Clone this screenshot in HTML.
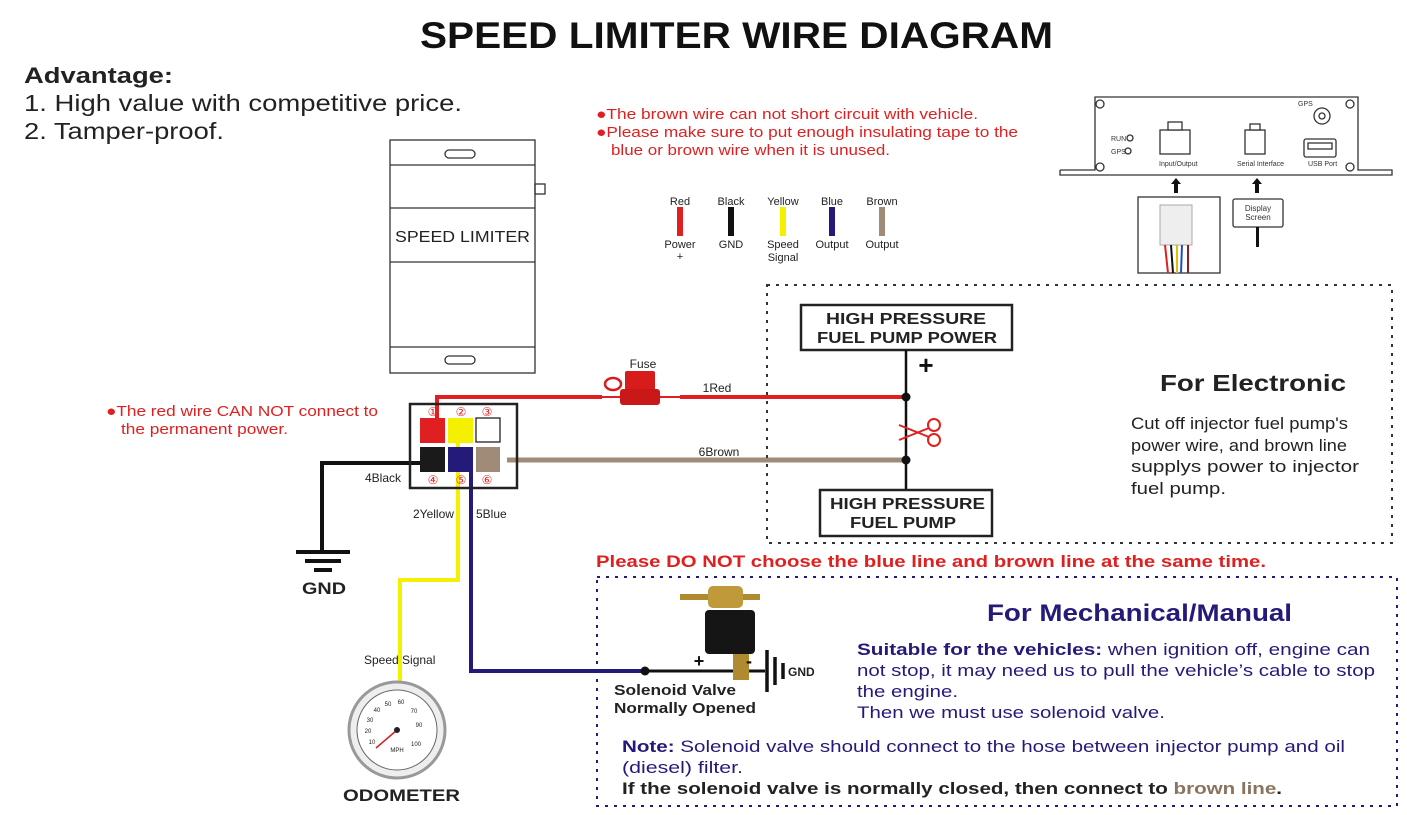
<!DOCTYPE html>
<html><head><meta charset="utf-8"><style>
body{margin:0;background:#fff}
svg{display:block;font-family:"Liberation Sans",Arial,sans-serif}
</style></head><body>
<svg width="1407" height="815" viewBox="0 0 1407 815">
<text x="420" y="48" font-size="37" font-weight="bold" fill="#111" textLength="633" lengthAdjust="spacingAndGlyphs">SPEED LIMITER WIRE DIAGRAM</text>
<text x="24" y="83" font-size="22" font-weight="bold" fill="#222" textLength="149" lengthAdjust="spacingAndGlyphs">Advantage:</text>
<text x="24" y="111" font-size="23" fill="#222" textLength="438" lengthAdjust="spacingAndGlyphs">1. High value with competitive price.</text>
<text x="24" y="139" font-size="23" fill="#222" textLength="200" lengthAdjust="spacingAndGlyphs">2. Tamper-proof.</text>
<g font-size="15" fill="#e02020">
<text x="596" y="119" textLength="382" lengthAdjust="spacingAndGlyphs">●The brown wire can not short circuit with vehicle.</text>
<text x="596" y="137" textLength="422" lengthAdjust="spacingAndGlyphs">●Please make sure to put enough insulating tape to the</text>
<text x="611" y="155" textLength="279" lengthAdjust="spacingAndGlyphs">blue or brown wire when it is unused.</text>
<text x="106" y="416" textLength="272" lengthAdjust="spacingAndGlyphs">●The red wire CAN NOT connect to</text>
<text x="121" y="434" textLength="167" lengthAdjust="spacingAndGlyphs">the permanent power.</text>
</g>
<!-- speed limiter -->
<g stroke="#333" fill="none" stroke-width="1.3">
<rect x="390" y="140" width="145" height="233"/>
<line x1="390" y1="165" x2="535" y2="165"/><line x1="390" y1="208" x2="535" y2="208"/>
<line x1="390" y1="262" x2="535" y2="262"/><line x1="390" y1="347" x2="535" y2="347"/>
<rect x="445" y="150" width="30" height="8" rx="4"/><rect x="445" y="356" width="30" height="8" rx="4"/>
<rect x="535" y="184" width="10" height="10"/>
</g>
<text x="395" y="242" font-size="16" fill="#222" textLength="135" lengthAdjust="spacingAndGlyphs">SPEED LIMITER</text>
<!-- legend -->
<g font-size="11" text-anchor="middle" fill="#222">
<text x="680" y="205">Red</text><text x="731" y="205">Black</text><text x="783" y="205">Yellow</text><text x="832" y="205">Blue</text><text x="882" y="205">Brown</text>
<text x="680" y="248">Power</text><text x="680" y="260">+</text><text x="731" y="248">GND</text>
<text x="783" y="248">Speed</text><text x="783" y="261">Signal</text><text x="832" y="248">Output</text><text x="882" y="248">Output</text>
</g>
<rect x="677" y="207" width="6" height="29" fill="#e02020"/><rect x="728" y="207" width="6" height="29" fill="#111"/>
<rect x="780" y="207" width="6" height="29" fill="#f5f000"/><rect x="829" y="207" width="6" height="29" fill="#241a7a"/>
<rect x="879" y="207" width="6" height="29" fill="#a08b78"/>
<!-- wires -->
<polyline points="437,420 437,397 906,397" stroke="#e02020" stroke-width="4" fill="none"/>
<line x1="507" y1="460" x2="906" y2="460" stroke="#a08b78" stroke-width="5"/>
<polyline points="423,463 322,463 322,552" stroke="#111" stroke-width="4" fill="none"/>
<polyline points="458,440 458,580 400,580 400,682" stroke="#f5f000" stroke-width="4" fill="none"/>
<polyline points="471,470 471,671 645,671" stroke="#241a7a" stroke-width="4" fill="none"/>
<!-- fuse -->
<rect x="602" y="388" width="78" height="18" fill="#fff"/>
<line x1="598" y1="397" x2="685" y2="397" stroke="#e02020" stroke-width="2"/>
<rect x="625" y="371" width="30" height="20" fill="#d81c1c" rx="2"/>
<rect x="620" y="389" width="40" height="16" fill="#c81818" rx="3"/>
<ellipse cx="613" cy="384" rx="8" ry="6" fill="none" stroke="#d81c1c" stroke-width="2.5"/>
<text x="643" y="368" font-size="12" text-anchor="middle" fill="#222">Fuse</text>
<text x="717" y="392" font-size="12" text-anchor="middle" fill="#222">1Red</text>
<text x="719" y="456" font-size="12" text-anchor="middle" fill="#222">6Brown</text>
<!-- connector -->
<rect x="410" y="404" width="107" height="84" fill="none" stroke="#222" stroke-width="2.5"/>
<rect x="420" y="418" width="25" height="25" fill="#e02020"/>
<rect x="448" y="418" width="25" height="25" fill="#f5f000"/>
<rect x="476" y="418" width="24" height="24" fill="#fff" stroke="#222" stroke-width="1.3"/>
<rect x="420" y="447" width="25" height="25" fill="#1a1a1a"/>
<rect x="448" y="447" width="25" height="25" fill="#241a7a"/>
<rect x="476" y="447" width="24" height="25" fill="#a08b78"/>
<g font-size="12" fill="#e02020" text-anchor="middle">
<text x="433" y="416">①</text><text x="461" y="416">②</text><text x="487" y="416">③</text>
<text x="433" y="484">④</text><text x="461" y="484">⑤</text><text x="487" y="484">⑥</text></g>
<g font-size="12" fill="#222"><text x="365" y="482">4Black</text><text x="413" y="518">2Yellow</text><text x="476" y="518">5Blue</text>
<text x="364" y="664">Speed Signal</text></g>
<!-- gnd -->
<g stroke="#111" stroke-width="4"><line x1="296" y1="552" x2="350" y2="552"/><line x1="305" y1="561" x2="341" y2="561"/><line x1="314" y1="570" x2="332" y2="570"/></g>
<text x="302" y="594" font-size="17" font-weight="bold" fill="#222" textLength="44" lengthAdjust="spacingAndGlyphs">GND</text>
<!-- odometer -->
<circle cx="397" cy="730" r="48" fill="#eee" stroke="#999" stroke-width="3"/>
<circle cx="397" cy="730" r="40" fill="#fff" stroke="#666"/>
<g font-size="6" fill="#222" text-anchor="middle"><text x="372" y="744">10</text><text x="368" y="733">20</text><text x="370" y="722">30</text><text x="377" y="712">40</text><text x="388" y="706">50</text><text x="401" y="704">60</text><text x="414" y="713">70</text><text x="419" y="727">90</text><text x="416" y="746">100</text><text x="397" y="752">MPH</text></g>
<line x1="397" y1="730" x2="376" y2="748" stroke="#d81c1c" stroke-width="1.5"/><circle cx="397" cy="730" r="3" fill="#222"/>
<text x="343" y="801" font-size="17" font-weight="bold" fill="#222" textLength="117" lengthAdjust="spacingAndGlyphs">ODOMETER</text>
<!-- electronic box -->
<rect x="767" y="285" width="625" height="258" fill="none" stroke="#333" stroke-width="2" stroke-dasharray="3,6"/>
<rect x="801" y="305" width="211" height="45" fill="#fff" stroke="#222" stroke-width="2.5"/>
<text x="826" y="324" font-size="16" font-weight="bold" fill="#222" textLength="160" lengthAdjust="spacingAndGlyphs">HIGH PRESSURE</text>
<text x="817" y="343" font-size="16" font-weight="bold" fill="#222" textLength="180" lengthAdjust="spacingAndGlyphs">FUEL PUMP POWER</text>
<line x1="906" y1="350" x2="906" y2="490" stroke="#111" stroke-width="2.5"/>
<circle cx="906" cy="397" r="4.5" fill="#111"/><circle cx="906" cy="460" r="4.5" fill="#111"/>
<text x="926" y="374" font-size="26" font-weight="bold" text-anchor="middle" fill="#111">+</text>
<g stroke="#e02020" stroke-width="2" fill="none"><circle cx="934" cy="425" r="6"/><circle cx="934" cy="440" r="6"/><line x1="899" y1="440" x2="929" y2="428"/><line x1="899" y1="425" x2="929" y2="437"/></g>
<rect x="820" y="490" width="172" height="46" fill="#fff" stroke="#222" stroke-width="2.5"/>
<text x="830" y="509" font-size="16" font-weight="bold" fill="#222" textLength="155" lengthAdjust="spacingAndGlyphs">HIGH PRESSURE</text>
<text x="850" y="528" font-size="16" font-weight="bold" fill="#222" textLength="106" lengthAdjust="spacingAndGlyphs">FUEL PUMP</text>
<text x="1160" y="391" font-size="23" font-weight="bold" fill="#222" textLength="186" lengthAdjust="spacingAndGlyphs">For Electronic</text>
<g font-size="17" fill="#222"><text x="1131" y="429" textLength="217" lengthAdjust="spacingAndGlyphs">Cut off injector fuel pump's</text><text x="1131" y="451" textLength="216" lengthAdjust="spacingAndGlyphs">power wire, and brown line</text><text x="1131" y="472" textLength="228" lengthAdjust="spacingAndGlyphs">supplys power to injector</text><text x="1131" y="494" textLength="95" lengthAdjust="spacingAndGlyphs">fuel pump.</text></g>
<text x="596" y="567" font-size="17" font-weight="bold" fill="#e02020" textLength="670" lengthAdjust="spacingAndGlyphs">Please DO NOT choose the blue line and brown line at the same time.</text>
<!-- mechanical -->
<rect x="597" y="577" width="800" height="229" fill="none" stroke="#241a7a" stroke-width="2" stroke-dasharray="3,6"/>
<text x="987" y="621" font-size="24" font-weight="bold" fill="#241a7a" textLength="305" lengthAdjust="spacingAndGlyphs">For Mechanical/Manual</text>
<g font-size="17" fill="#241a7a">
<text x="857" y="655" textLength="513" lengthAdjust="spacingAndGlyphs"><tspan font-weight="bold">Suitable for the vehicles:</tspan> when ignition off, engine can</text>
<text x="857" y="676" textLength="518" lengthAdjust="spacingAndGlyphs">not stop, it may need us to pull the vehicle’s cable to stop</text>
<text x="857" y="697" textLength="101" lengthAdjust="spacingAndGlyphs">the engine.</text><text x="857" y="718" textLength="308" lengthAdjust="spacingAndGlyphs">Then we must use solenoid valve.</text>
<text x="622" y="752" textLength="723" lengthAdjust="spacingAndGlyphs"><tspan font-weight="bold">Note:</tspan> Solenoid valve should connect to the hose between injector pump and oil</text>
<text x="622" y="773" textLength="121" lengthAdjust="spacingAndGlyphs">(diesel) filter.</text></g>
<text x="622" y="794" font-size="17" font-weight="bold" fill="#222" textLength="660" lengthAdjust="spacingAndGlyphs">If the solenoid valve is normally closed, then connect to <tspan fill="#8a7460">brown line</tspan>.</text>
<!-- solenoid -->
<line x1="645" y1="671" x2="765" y2="671" stroke="#111" stroke-width="3"/>
<circle cx="645" cy="671" r="4.5" fill="#111"/>
<rect x="680" y="594" width="80" height="6" fill="#b08a30"/>
<rect x="708" y="586" width="35" height="22" rx="5" fill="#c09a3a"/>
<rect x="705" y="610" width="50" height="44" rx="4" fill="#151515"/>
<rect x="733" y="654" width="16" height="26" fill="#b08a30"/>
<text x="699" y="667" font-size="18" font-weight="bold" text-anchor="middle" fill="#111">+</text>
<text x="749" y="667" font-size="18" font-weight="bold" text-anchor="middle" fill="#111">-</text>
<g stroke="#111" stroke-width="3.5"><line x1="767" y1="650" x2="767" y2="692"/><line x1="775" y1="657" x2="775" y2="685"/><line x1="783" y1="663" x2="783" y2="679"/></g>
<text x="788" y="676" font-size="12" font-weight="bold" fill="#222">GND</text>
<text x="614" y="695" font-size="15" font-weight="bold" fill="#222" textLength="122" lengthAdjust="spacingAndGlyphs">Solenoid Valve</text>
<text x="614" y="713" font-size="15" font-weight="bold" fill="#222" textLength="142" lengthAdjust="spacingAndGlyphs">Normally Opened</text>
<!-- device panel -->
<g stroke="#333" stroke-width="1.3" fill="#fff">
<polyline points="1060,170 1095,170 1095,97 1358,97 1358,170 1392,170 1392,175 1060,175 1060,170" />
<circle cx="1100" cy="104" r="4"/><circle cx="1350" cy="104" r="4"/><circle cx="1100" cy="167" r="4"/><circle cx="1350" cy="167" r="4"/>
<circle cx="1130" cy="138" r="3"/><circle cx="1128" cy="151" r="3"/>
<rect x="1160" y="130" width="30" height="24"/><rect x="1168" y="122" width="14" height="8"/>
<rect x="1245" y="130" width="20" height="24"/><rect x="1250" y="124" width="10" height="6"/>
<circle cx="1322" cy="116" r="8"/><circle cx="1322" cy="116" r="3"/>
<rect x="1304" y="139" width="32" height="18" rx="2"/><rect x="1308" y="143" width="24" height="6"/>
<rect x="1138" y="197" width="82" height="76"/>
<rect x="1233" y="199" width="50" height="28" rx="2"/>
</g>
<g font-size="7" fill="#333"><text x="1111" y="141">RUN</text><text x="1111" y="154">GPS</text>
<text x="1159" y="166">Input/Output</text><text x="1237" y="166">Serial Interface</text><text x="1308" y="166">USB Port</text><text x="1298" y="106">GPS</text>
<text x="1258" y="211" text-anchor="middle" font-size="8">Display</text><text x="1258" y="220" text-anchor="middle" font-size="8">Screen</text></g>
<g fill="#111"><rect x="1174" y="184" width="4" height="9"/><polygon points="1171,184 1181,184 1176,178"/>
<rect x="1255" y="184" width="4" height="9"/><polygon points="1252,184 1262,184 1257,178"/>
<rect x="1256" y="227" width="3" height="20"/></g>
<rect x="1160" y="205" width="32" height="40" fill="#eee" stroke="#aaa"/>
<g stroke-width="2"><line x1="1165" y1="245" x2="1168" y2="273" stroke="#e02020"/><line x1="1171" y1="245" x2="1173" y2="273" stroke="#111"/><line x1="1177" y1="245" x2="1177" y2="273" stroke="#e0c000"/><line x1="1182" y1="245" x2="1181" y2="273" stroke="#2050c0"/><line x1="1188" y1="245" x2="1188" y2="273" stroke="#902020"/></g>
</svg>
</body></html>
